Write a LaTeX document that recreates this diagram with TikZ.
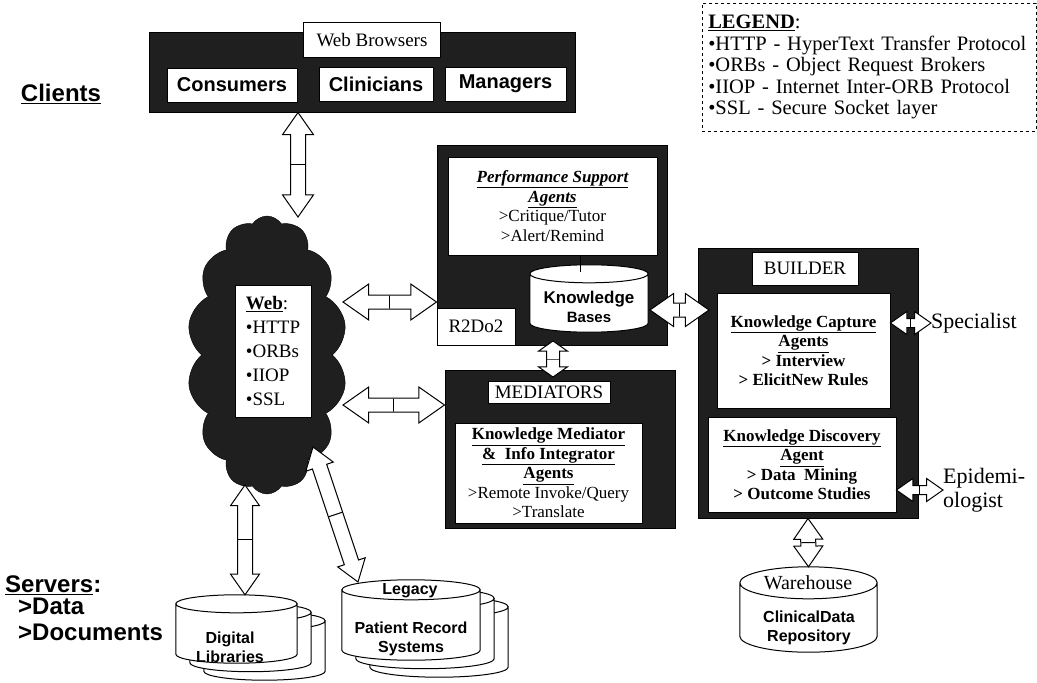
\documentclass[tikz,border=0pt]{standalone}
\usepackage{fontspec}
\setmainfont{Liberation Serif}
\newfontfamily\arialfont{Liberation Sans}
\usetikzlibrary{shapes.arrows,shapes.symbols,calc,positioning}
\definecolor{scanblack}{gray}{0.12}
\tikzset{
    dark-box/.style = {draw=black, fill=scanblack, rectangle, inner sep=0pt, line width=1pt},
    label-box/.style = {draw=black, fill=white, rectangle, inner sep=0pt, line width=0.8pt, font=\fontsize{19}{22}\selectfont},
    client-box/.style = {label-box, font=\arialfont\bfseries\fontsize{20}{24}\selectfont},
    agent-box/.style = {draw=black, fill=white, rectangle, inner sep=0pt, line width=0.8pt, align=center, font=\fontsize{17}{19.5}\selectfont},
    side-text/.style = {inner sep=0pt, font=\fontsize{22}{24}\selectfont},
    big-sans/.style = {inner sep=0pt, font=\arialfont\bfseries\fontsize{24}{27}\selectfont},
    db-box/.style = {rectangle, inner sep=0pt},
    db-text/.style = {inner sep=0pt, align=center, font=\arialfont\bfseries\fontsize{16}{19}\selectfont},
    arrow-shaft/.store in = \arrowshaft, arrow-shaft = 14,
    arrow-head/.store in = \arrowhead, arrow-head = 32,
    arrow-tip/.store in = \arrowtip, arrow-tip = 70,
    block-arrow/.style = {double arrow, draw=black, fill=white, line width=1pt, inner xsep=0pt, inner ysep=\arrowshaft/2,
        double arrow head extend={(\arrowhead-\arrowshaft)/2},
        double arrow head indent=0pt, double arrow tip angle=\arrowtip},
    arrow-joint/.style = {draw=black, line width=1pt, rectangle, inner sep=0pt, minimum width=0pt, minimum height=\arrowshaft},
}
% two-way block arrow between two named points
\newcommand{\linkarrow}[3][]{%
  \path[#1] let \p1 = (#2), \p2 = (#3),
      \n1 = {atan2(\y2-\y1, \x2-\x1)}, \n2 = {veclen(\x2-\x1, \y2-\y1)} in
    node[block-arrow, rotate=\n1, minimum height=\n2] at ($(\p1)!0.5!(\p2)$) {}
    node[arrow-joint, rotate=\n1] at ($(\p1)!0.5!(\p2)$) {};
}
% database drum over a db-box node, #2 = half height of its top ellipse
\newcommand{\dbdraw}[2]{%
  \draw[line width=1pt, fill=white] let \p1 = (#1.north west), \p2 = (#1.south east), \n1 = {(\x2-\x1)/2} in
    (\x1, \y1-#2pt) -- (\x1, \y2+#2pt) arc[start angle=180, end angle=360, x radius=\n1, y radius=#2pt]
    -- (\x2, \y1-#2pt) arc[start angle=0, end angle=180, x radius=\n1, y radius=#2pt] -- cycle
    (\x1+\n1, \y1-#2pt) ellipse [x radius=\n1, y radius=#2pt];
}

\begin{document}
\begin{tikzpicture}[x=1pt, y=-1pt]
\useasboundingbox (0,0) rectangle (1037,683);

% clients
\node[big-sans] (clients) at (61,94) {\underline{Clients}};
\node[dark-box, minimum width=426, minimum height=80] (clientbar) at (362,72) {};
\node[label-box, minimum width=137, minimum height=35] (browsers) at (372,40) {Web Browsers};
\node[client-box, minimum width=130, minimum height=34] (consumers) at (232,85) {Consumers};
\node[client-box, minimum width=114, minimum height=34] (clinicians) at (376,84) {Clinicians};
\node[client-box, minimum width=121, minimum height=34] (managers) at (505.5,84) {Managers};

% legend
\node[draw=black, dashed, line width=0.6pt, anchor=north west, minimum width=334, minimum height=128,
      text width=322, inner sep=6pt, align=left, font=\fontsize{20.5}{21.5}\selectfont] (legend) at (702,3)
    {\textbf{\underline{LEGEND}}:\\
     •HTTP - HyperText Transfer Protocol\\
     •ORBs - Object Request Brokers\\
     •IIOP - Internet Inter-ORB Protocol\\
     •SSL - Secure Socket layer};

% web cloud
\node[cloud, cloud puffs=14, cloud puff arc=115, aspect=0.57, draw=black, fill=scanblack,
      minimum width=160, minimum height=278, inner sep=0pt] (cloud) at (267,355) {};
\node[agent-box, minimum width=76, minimum height=132, align=left, font=\fontsize{19}{24}\selectfont] (webbox) at (273,351)
    {\textbf{\underline{Web}}:\\•HTTP\\•ORBs\\•IIOP\\•SSL};

% R2Do2
\node[dark-box, minimum width=230, minimum height=200] (r2do2) at (552,245) {};
\node[agent-box, minimum width=209, minimum height=98] (perf) at (552.5,206)
    {\textbf{\textit{\underline{Performance Support}}}\\\textbf{\textit{\underline{Agents}}}\\>Critique/Tutor\\>Alert/Remind};
\node[db-box, minimum width=118, minimum height=67] (kbase) at (589,298.5) {};
\dbdraw{kbase}{9}
\node[db-text, font=\arialfont\bfseries\fontsize{17}{19}\selectfont] (kbtext) at (589,307)
    {Knowledge\\{\fontsize{15}{17}\selectfont Bases}};
\draw[line width=1pt] (perf.south -| 580,0) -- (580,272);
\node[label-box, minimum width=78, minimum height=37] (r2label) at (476,326.5) {R2Do2};

% mediators
\node[dark-box, minimum width=230, minimum height=158] (mediators) at (560,449) {};
\node[label-box, minimum width=122, minimum height=22] (medlabel) at (549,392.5) {MEDIATORS};
\node[agent-box, minimum width=187, minimum height=100] (medagents) at (548.5,473)
    {\textbf{\underline{Knowledge Mediator}}\\\textbf{\underline{\&\ \ Info Integrator}}\\\textbf{\underline{Agents}}\\
     >Remote Invoke/Query\\>Translate};

% builder
\node[dark-box, minimum width=220, minimum height=270] (builder) at (808,383) {};
\node[label-box, minimum width=106, minimum height=33] (buildlabel) at (805,268.5) {BUILDER};
\node[agent-box, minimum width=173, minimum height=115] (capture) at (803.5,350.5)
    {\textbf{\underline{Knowledge Capture}}\\\textbf{\underline{Agents}}\\\textbf{> Interview}\\\textbf{> ElicitNew Rules}};
\node[agent-box, minimum width=188, minimum height=95] (discovery) at (802,464.5)
    {\textbf{\underline{Knowledge Discovery}}\\\textbf{\underline{Agent}}\\\textbf{> Data\ \ Mining}\\\textbf{> Outcome Studies}};
\node[side-text, anchor=west] (specialist) at (931,323) {Specialist};
\node[side-text, anchor=west, align=left] (epidem) at (943,490) {Epidemi-\\ologist};

% warehouse
\node[db-box, minimum width=137, minimum height=85] (warehouse) at (808.5,609.5) {};
\dbdraw{warehouse}{16}
\node[inner sep=0pt, font=\fontsize{20}{22}\selectfont] (whtext) at (808,583) {Warehouse};
\node[db-text] (cdrtext) at (809,628) {ClinicalData\\Repository};

% servers
\node[big-sans, anchor=west] (servers) at (5,585) {\underline{Servers}:};
\node[big-sans, anchor=west] (sdata) at (18,606) {>Data};
\node[big-sans, anchor=west] (sdocs) at (18,632) {>Documents};

\node[db-box, minimum width=121, minimum height=68] (diglib-b2) at (264.5,646) {};
\node[db-box, minimum width=121, minimum height=68] (diglib-b1) at (250.5,637.5) {};
\node[db-box, minimum width=121, minimum height=68] (diglib) at (236.5,629) {};
\dbdraw{diglib-b2}{9}
\dbdraw{diglib-b1}{9}
\dbdraw{diglib}{9}
\node[db-text] (digtext) at (230,647) {Digital\\Libraries};

\node[db-box, minimum width=138, minimum height=80] (legacy-b2) at (439,637) {};
\node[db-box, minimum width=138, minimum height=80] (legacy-b1) at (425,628.5) {};
\node[db-box, minimum width=138, minimum height=80] (legacy) at (411,620) {};
\dbdraw{legacy-b2}{10}
\dbdraw{legacy-b1}{10}
\dbdraw{legacy}{10}
\node[db-text] (legtext) at (410,591) {Legacy};
\node[db-text] (prstext) at (411,639) {Patient Record\\Systems};

% connectors
\coordinate (web-n) at (298,217);
\coordinate (web-e1) at (343,302);
\coordinate (web-e2) at (343,405);
\coordinate (web-s1) at (245,485);
\coordinate (web-s2) at (313,447);
\coordinate (legacy-n) at (358,582);
\coordinate (kb-s) at (553,341);
\coordinate (med-n) at (553,377);
\coordinate (kb-e) at (650,310);
\coordinate (build-w) at (709,310);

\linkarrow[arrow-shaft=14, arrow-head=30]{clientbar.south -| web-n}{web-n}
\linkarrow[arrow-shaft=13, arrow-head=35]{web-e1}{r2do2.west |- web-e1}
\linkarrow[arrow-shaft=13, arrow-head=35]{web-e2}{mediators.west |- web-e2}
\linkarrow[arrow-shaft=12, arrow-head=28, arrow-tip=110]{kb-s}{med-n}
\linkarrow[arrow-shaft=13, arrow-head=32]{kb-e}{build-w}
\linkarrow[arrow-shaft=8, arrow-head=22]{capture.east |- specialist.west}{specialist.west}
\linkarrow[arrow-shaft=8, arrow-head=22]{discovery.east |- epidem.west}{epidem.west}
\linkarrow[arrow-shaft=14, arrow-head=28]{builder.south}{warehouse.north}
\linkarrow[arrow-shaft=14, arrow-head=28]{web-s1}{web-s1 |- diglib.north}
\linkarrow[arrow-shaft=14, arrow-head=28]{web-s2}{legacy-n}
\end{tikzpicture}
\end{document}
